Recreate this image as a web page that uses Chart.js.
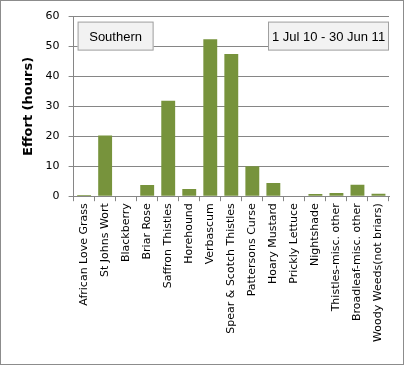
<html lang="en">
  <head>
    <meta charset="UTF-8" />
    <script src="https://cdn.jsdelivr.net/npm/chart.js@4.4.0/dist/chart.umd.min.js"></script>
    <style>
      body { margin: 0; background: #fff; }
      .frame { width: 402px; height: 363px; border: 1px solid #8c8c8c; }
    </style>
  </head>
  <body>
    <div class="frame">
      <canvas id="effortCanvas" width="402" height="363"></canvas>
    </div>
    <script>
      // weed categories
      const categories = [
        "African Love Grass", "St Johns Wort", "Blackberry", "Briar Rose",
        "Saffron Thistles", "Horehound", "Verbascum", "Spear & Scotch Thistles",
        "Pattersons Curse", "Hoary Mustard", "Prickly Lettuce", "Nightshade",
        "Thistles-misc. other", "Broadleaf-misc. other", "Woody Weeds(not briars)"
      ];
      // effort in hours
      const effortHours = [0.4, 20.3, 0, 3.7, 31.9, 2.4, 52.4, 47.5, 10, 4.4, 0, 0.7, 1.1, 3.8, 0.8];
      const yTicks = [0, 10, 20, 30, 40, 50, 60];
      const regionLabel = "Southern";
      const periodLabel = "1 Jul 10 - 30 Jun 11";

      const fontFamily = "'DejaVu Sans', Verdana, sans-serif";

      // draws the two grey label boxes inside the plot area
      const labelBoxes = {
        id: "labelBoxes",
        afterDraw(chart) {
          const ctx = chart.ctx;
          const area = chart.chartArea;
          function box(x, y, w, h, text) {
            ctx.save();
            ctx.fillStyle = "#f2f2f2";
            ctx.fillRect(x, y, w, h);
            ctx.strokeStyle = "#a0a0a0";
            ctx.lineWidth = 1;
            ctx.strokeRect(x + 0.5, y + 0.5, w - 1, h - 1);
            ctx.fillStyle = "#000";
            ctx.font = "13px 'Liberation Sans', Arial, sans-serif";
            ctx.textAlign = "center";
            ctx.textBaseline = "middle";
            ctx.fillText(text, x + w / 2, y + h / 2 + 1);
            ctx.restore();
          }
          box(area.left + 4, area.top + 5, 76, 29, regionLabel);
          box(area.right - 121, area.top + 5, 121, 29, periodLabel);
        },
      };

      new Chart(document.getElementById("effortCanvas").getContext("2d"), {
        type: "bar",
        data: {
          labels: categories,
          datasets: [
            {
              data: effortHours,
              backgroundColor: "#77933c",
              categoryPercentage: 1,
              barPercentage: 0.66,
            },
          ],
        },
        options: {
          responsive: false,
          animation: false,
          layout: { padding: { top: 14, right: 14, left: 20, bottom: 20 } },
          plugins: { legend: { display: false }, tooltip: { enabled: false } },
          scales: {
            x: {
              grid: {
                offset: true,
                drawOnChartArea: false,
                tickLength: 5,
                color: "#868686",
              },
              border: { color: "#868686" },
              ticks: {
                color: "#000",
                minRotation: 90,
                maxRotation: 90,
                autoSkip: false,
                padding: 2,
                font: { family: fontFamily, size: 11 },
              },
            },
            y: {
              min: 0,
              max: 60,
              afterBuildTicks(scale) {
                scale.ticks = yTicks.map((v) => ({ value: v }));
              },
              grid: { color: "#868686", tickLength: 5 },
              border: { color: "#868686" },
              ticks: {
                color: "#000",
                padding: 9,
                font: { family: fontFamily, size: 11 },
              },
              title: {
                display: true,
                text: "Effort (hours)",
                color: "#000",
                font: { family: fontFamily, size: 13, weight: "bold" },
                padding: { top: 0, bottom: 0 },
              },
            },
          },
        },
        plugins: [labelBoxes],
      });
    </script>
  </body>
</html>
